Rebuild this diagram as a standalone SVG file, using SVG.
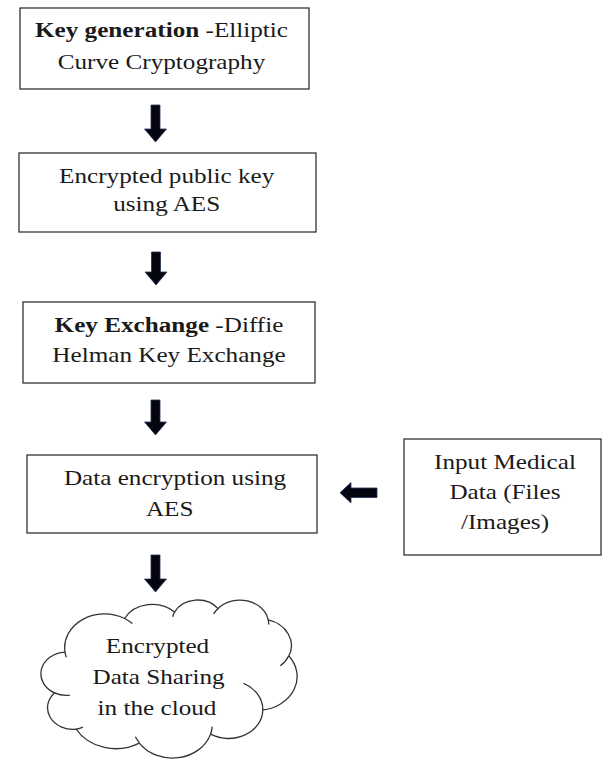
<svg xmlns="http://www.w3.org/2000/svg" width="604" height="760" viewBox="0 0 604 760">
<style>
.box{fill:#fff;stroke:#333;stroke-width:1.3}
.t{font-family:"Liberation Serif","Times New Roman",serif;font-size:20.3px;fill:#1a1a1a;text-anchor:middle}
.b{font-weight:bold}
.arrow{fill:#05050f;stroke:#26345a;stroke-width:0.8}
.cloud{fill:#fff;stroke:#333;stroke-width:1.3}
.hook{fill:none;stroke:#333;stroke-width:1.3}
</style>
<rect width="604" height="760" fill="#fff"/>
<g id="connectors">
<path class="arrow" d="M151 105 H160 V129 H166.5 L155.5 142 L144.5 129 H151 Z"/>
<path class="arrow" d="M151.5 252 H160.5 V272 H167 L156 285 L145 272 H151.5 Z"/>
<path class="arrow" d="M151 400 H160 V422 H166.5 L155.5 435 L144.5 422 H151 Z"/>
<path class="arrow" d="M151 555 H160 V579 H166.5 L155.5 592 L144.5 579 H151 Z"/>
<path class="arrow" d="M377 488 V497.5 H351 V503 L340 492.7 L351 482.5 V488 Z"/>
</g>
<g id="node-keygen">
<rect class="box" x="20" y="8" width="289" height="81"/>
<text class="t" transform="translate(161.5 36.7) scale(1.24 1)"><tspan class="b">Key generation</tspan> -Elliptic</text>
<text class="t" transform="translate(161.5 68.5) scale(1.24 1)">Curve Cryptography</text>
</g>
<g id="node-encpub">
<rect class="box" x="19" y="153" width="297" height="79"/>
<text class="t" transform="translate(166.7 182.7) scale(1.24 1)">Encrypted public key</text>
<text class="t" transform="translate(166.7 211) scale(1.24 1)">using AES</text>
</g>
<g id="node-keyex">
<rect class="box" x="23" y="302" width="292" height="81"/>
<text class="t" transform="translate(169 331.7) scale(1.24 1)"><tspan class="b">Key Exchange</tspan> -Diffie</text>
<text class="t" transform="translate(169 361.7) scale(1.24 1)">Helman Key Exchange</text>
</g>
<g id="node-dataenc">
<rect class="box" x="27" y="455" width="290" height="78"/>
<text class="t" transform="translate(175 485) scale(1.24 1)">Data encryption using</text>
<text class="t" transform="translate(169.7 515.5) scale(1.24 1)">AES</text>
</g>
<g id="node-input">
<rect class="box" x="404" y="439" width="197" height="116"/>
<text class="t" transform="translate(505 469) scale(1.24 1)">Input Medical</text>
<text class="t" transform="translate(505 499.3) scale(1.24 1)">Data (Files</text>
<text class="t" transform="translate(505 529.3) scale(1.24 1)">/Images)</text>
</g>
<g id="node-cloud">
<g transform="translate(42 599.5) scale(0.0059028 0.0036574)">
<path class="cloud" vector-effect="non-scaling-stroke" d="M3900 14370 A6753 9190 0 0 1 14004.5 5201.4 A5333 7267 0 0 1 22455.2 3431.2 A4365 5945 0 0 1 29832.9 2480 A4857 6595 0 0 1 38317.7 5576.3 A5333 7273 0 0 1 41818.3 15460.3 A6775 9220 0 0 1 37405 30204.9 A5785 7867 0 0 1 28556.8 36815.4 A6752 9215 0 0 1 16482.2 39268.4 A7720 10543 0 0 1 5804.7 35475 A4360 5918 0 0 1 2114.8 25551.1 A4345 5945 0 0 1 3900 14370 Z"/>
<path class="hook" vector-effect="non-scaling-stroke" d="M4693 26177 A4345 5945 0 0 1 2114.8 25551.1 M6928 34899 A4360 5918 0 0 1 5804.7 35475 M16478 39090 A6752 9215 0 0 1 15813.8 37527.7 M28827 34751 A6752 9215 0 0 1 28556.8 36815.4 M34129 22954 A5785 7867 0 0 1 37405 30204.9 M41798 15354 A5333 7273 0 0 1 40369.7 18136.8 M38324 5426 A4857 6595 0 0 1 38394 6840.6 M29078 3952 A4857 6595 0 0 1 29832.9 2480 M22141 4720 A4365 5945 0 0 1 22455.2 3431.2 M14000 5192 A6753 9190 0 0 1 15305 6550.4 M4127 15789 A6753 9190 0 0 1 3900 14370"/>
</g>
<text class="t" transform="translate(157.5 653.3) scale(1.24 1)">Encrypted</text>
<text class="t" transform="translate(158.5 684.3) scale(1.24 1)">Data Sharing</text>
<text class="t" transform="translate(157 715) scale(1.24 1)">in the cloud</text>
</g>
</svg>
